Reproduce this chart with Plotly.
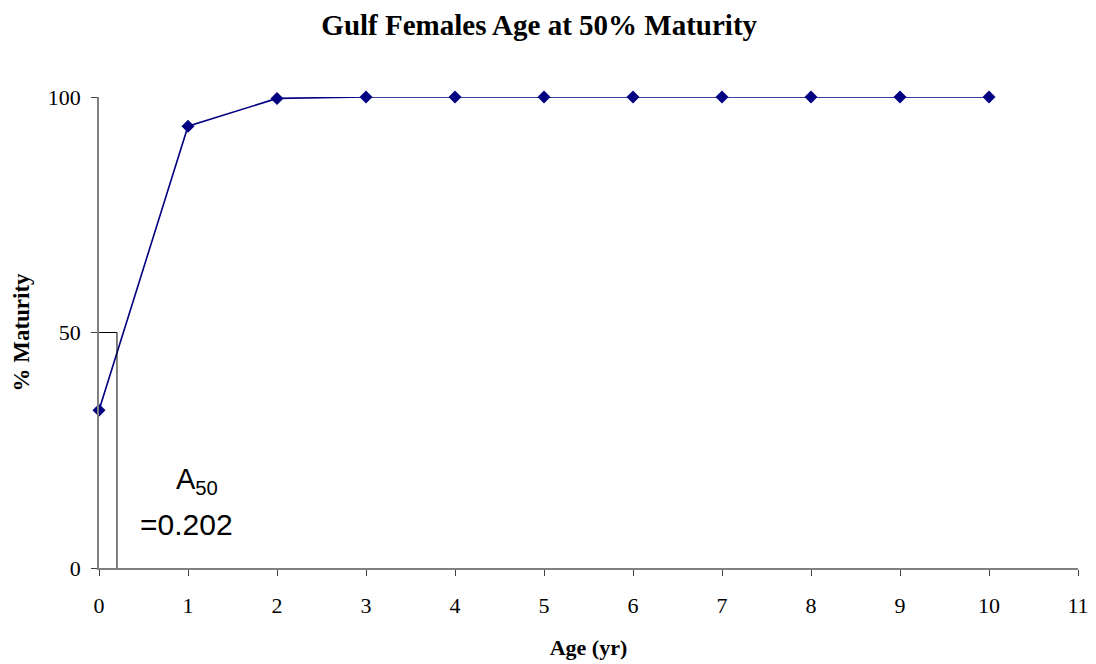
import plotly.graph_objects as go

# Age-at-maturity data for Gulf females
ages = [0, 1, 2, 3, 4, 5, 6, 7, 8, 9, 10]
pct_mature = [33.5, 93.8, 99.7, 100, 100, 100, 100, 100, 100, 100, 100]

a50 = 0.202          # age at 50% maturity
half_level = 50

x_ticks = list(range(0, 12))
y_ticks = [0, 50, 100]

serif = "Liberation Serif"
sans = "Liberation Sans"
navy = "#000080"

fig = go.Figure()

fig.add_trace(go.Scatter(
    x=ages, y=pct_mature, mode="lines+markers",
    line=dict(color=navy, width=1.6),
    marker=dict(symbol="diamond", size=10, color=navy),
    showlegend=False, cliponaxis=False,
))

# Drop lines marking A50
fig.add_trace(go.Scatter(
    x=[0, a50, a50], y=[half_level, half_level, 0], mode="lines",
    line=dict(color="black", width=1),
    showlegend=False, hoverinfo="skip", cliponaxis=False,
))

fig.add_annotation(x=1.1, y=18.5, xref="x", yref="y",
                   text="A<sub>50</sub>", showarrow=False,
                   font=dict(family=sans, size=29, color="black"))
fig.add_annotation(x=0.98, y=9.3, xref="x", yref="y",
                   text="=" + f"{a50:.3f}", showarrow=False,
                   font=dict(family=sans, size=30, color="black"))

fig.update_layout(
    width=1096, height=664,
    margin=dict(l=99, r=18, t=97, b=96),
    paper_bgcolor="white", plot_bgcolor="white",
    title=dict(text="<b>Gulf Females Age at 50% Maturity</b>",
               x=0.492, xanchor="center", y=0.962, yanchor="middle",
               font=dict(family=serif, size=29, color="black")),
    font=dict(family=serif, size=22, color="black"),
)

fig.update_xaxes(
    range=[0, 11], tickmode="array", tickvals=x_ticks,
    ticks="outside", ticklen=6, tickcolor="#404040", tickwidth=1,
    ticklabelstandoff=11, automargin=False,
    showline=True, linecolor="#808080", linewidth=1.5,
    showgrid=False, zeroline=False,
    tickfont=dict(family=serif, size=22, color="black"),
    title=dict(text="<b>Age (yr)</b>", standoff=22,
               font=dict(family=serif, size=22, color="black")),
)
fig.update_yaxes(
    range=[0, 100], tickmode="array", tickvals=y_ticks,
    ticks="outside", ticklen=6, tickcolor="#404040", tickwidth=1,
    ticklabelstandoff=6, automargin=False,
    showline=True, linecolor="#808080", linewidth=1.5,
    showgrid=False, zeroline=False,
    tickfont=dict(family=serif, size=22, color="black"),
    title=dict(text="<b>% Maturity</b>", standoff=12,
               font=dict(family=serif, size=23, color="black")),
)

fig.write_html("out.html")
